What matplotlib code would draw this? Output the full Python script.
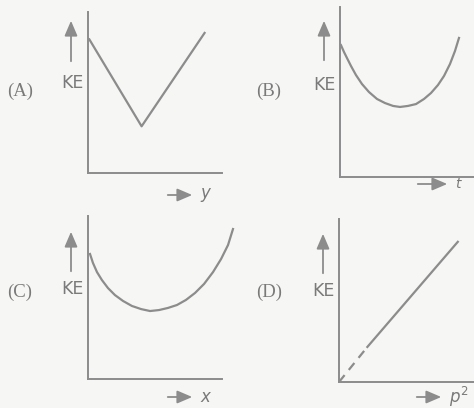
import matplotlib
matplotlib.use('Agg')
import matplotlib.pyplot as plt

W, H = 474, 408
ink = '#8c8c8c'
txt = '#7a7a7a'

# (A) KE vs y
a_x = [0.1, 4.0, 8.7]
a_ke = [8.3, 2.9, 8.7]
# (B) KE vs t
b_t = [0.07, 0.30, 0.52, 0.82, 1.19, 1.64, 2.16, 2.76, 3.36, 3.96,
       4.48, 5.07, 5.67, 6.27, 6.79, 7.31, 7.76, 8.21, 8.58, 8.88]
b_ke = [7.76, 7.35, 7.0, 6.53, 6.0, 5.47, 5.0, 4.59, 4.35, 4.18,
        4.12, 4.18, 4.29, 4.59, 4.94, 5.41, 5.94, 6.65, 7.41, 8.18]
# (C) KE vs x
c_x = [0.15, 0.37, 0.67, 1.04, 1.49, 2.01, 2.61, 3.28, 3.96, 4.63,
       5.30, 5.97, 6.64, 7.31, 7.99, 8.66, 9.33, 9.93, 10.45, 10.82]
c_ke = [7.67, 7.12, 6.56, 6.07, 5.58, 5.15, 4.79, 4.48, 4.29, 4.17,
        4.23, 4.36, 4.54, 4.85, 5.28, 5.83, 6.56, 7.36, 8.22, 9.2]
# (D) KE vs p^2 (dashed near origin, then solid)
d_p2_dash = [0.0, 2.1]
d_ke_dash = [0.0, 2.15]
d_p2 = [2.1, 8.8]
d_ke = [2.15, 8.6]

panel_tags = ['(A)', '(B)', '(C)', '(D)']
x_names = ['$y$', '$t$', '$x$', '$p^2$']

fig = plt.figure(figsize=(W / 100, H / 100), dpi=100)
fig.patch.set_facecolor('#f6f6f4')


def make_axes(x0, y0, x1, ytop, xend):
    # x0,y0 = origin pixel, x1 = right edge of axes box, ytop = top pixel
    ax = fig.add_axes([x0 / W, 1 - y0 / H, (x1 - x0) / W, (y0 - ytop) / H])
    ax.patch.set_alpha(0)
    sx = (xend - x0) / 10.
    ax.set_xlim(0, (x1 - x0) / sx)
    ax.set_ylim(0, 10)
    for s in ['top', 'right']:
        ax.spines[s].set_visible(False)
    for s in ['left', 'bottom']:
        ax.spines[s].set_color(ink)
        ax.spines[s].set_linewidth(1.4)
    ax.spines['bottom'].set_bounds(0, 10)
    ax.set_xticks([])
    ax.set_yticks([])
    return ax


def decorate(tag, xname, ke_x, ke_y, arrow_x, arr_y0, arr_y1,
             tag_x, tag_y, bx0, bx1, by, xsize=12):
    fig.text(ke_x / W, 1 - ke_y / H, 'KE', ha='right', va='center',
             fontsize=12.5, color=txt, family='DejaVu Sans')
    fig.text(tag_x / W, 1 - tag_y / H, tag, ha='left', va='center',
             fontsize=13.5, color=txt, family='Liberation Serif')
    plt.annotate('', xy=(arrow_x, H - arr_y1), xytext=(arrow_x, H - arr_y0),
                 xycoords='figure pixels', textcoords='figure pixels',
                 arrowprops=dict(arrowstyle='-|>,head_length=0.7,head_width=0.3',
                                 color=ink, lw=1.3, mutation_scale=13))
    plt.annotate('', xy=(bx1, H - by), xytext=(bx0, H - by),
                 xycoords='figure pixels', textcoords='figure pixels',
                 arrowprops=dict(arrowstyle='-|>,head_length=0.7,head_width=0.3',
                                 color=ink, lw=1.3, mutation_scale=13))
    fig.text((bx1 + 5) / W, 1 - by / H, xname, ha='left', va='center',
             fontsize=xsize, color=txt)


axA = make_axes(88, 173, 237, 12, 222)
axA.plot(a_x, a_ke, color=ink, lw=1.6)
decorate(panel_tags[0], x_names[0], 84, 83, 71, 64, 18, 7, 91, 165, 195, 195)

axB = make_axes(340, 177, 474, 7, 474)
axB.plot(b_t, b_ke, color=ink, lw=1.6)
decorate(panel_tags[1], x_names[1], 336, 85, 324, 63, 18, 256, 91, 415, 450, 184, xsize=10)

axC = make_axes(88, 379, 237, 216, 222)
axC.plot(c_x, c_ke, color=ink, lw=1.6, clip_on=False)
decorate(panel_tags[2], x_names[2], 84, 289, 71, 274, 229, 7, 292, 165, 195, 397)

axD = make_axes(339, 382, 474, 219, 474)
axD.plot(d_p2_dash, d_ke_dash, color=ink, lw=1.6, ls=(0, (4, 3)))
axD.plot(d_p2, d_ke, color=ink, lw=1.6)
decorate(panel_tags[3], x_names[3], 335, 291, 323, 276, 231, 256, 292, 414, 444, 397)

fig.savefig('out.png', dpi=100, facecolor=fig.get_facecolor())
